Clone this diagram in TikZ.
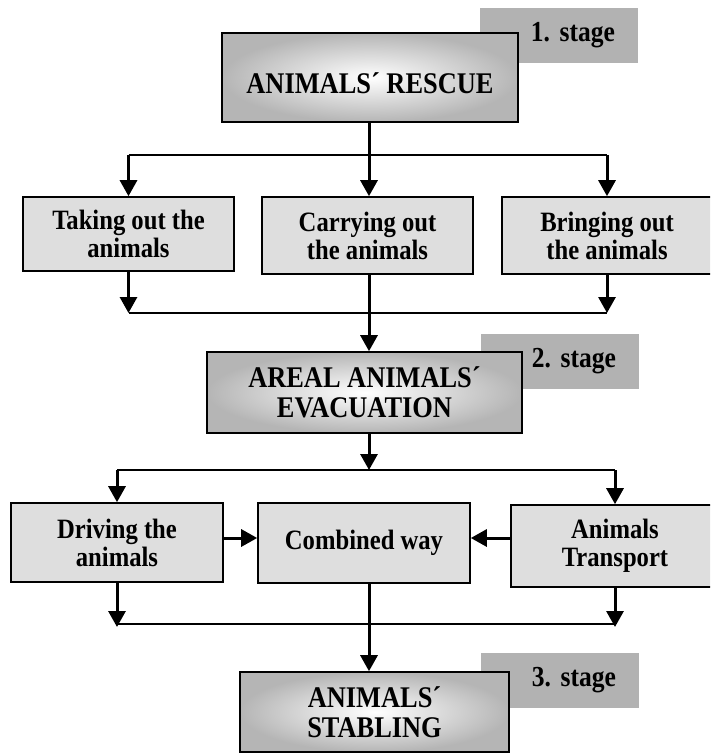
\documentclass[tikz,border=0pt]{standalone}
\usepackage{fontspec}
\setmainfont[FakeStretch=0.88]{Liberation Serif}
\usetikzlibrary{arrows.meta}
\definecolor{tagfill}{gray}{0.70}
\definecolor{stepfill}{gray}{0.87}
\definecolor{stageedge}{gray}{0.71}
\tikzset{
  stagebox/.style={draw=black, line width=1.6pt, inner color=white, outer color=stageedge, align=center, font=\fontsize{30}{30}\selectfont\bfseries},
  tagbox/.style={fill=tagfill, minimum height=55pt, text width=112pt, inner xsep=23pt, align=right, font=\fontsize{29}{30}\selectfont\bfseries},
  stepbox/.style={draw=black, line width=1.6pt, fill=stepfill, align=center, font=\fontsize{28}{28}\selectfont\bfseries},
  flow/.style={line width=3pt, -{Triangle[length=16pt,width=17pt]}},
  bus/.style={line width=1.3pt}
}
\begin{document}
\frenchspacing
\begin{tikzpicture}[x=1pt,y=-1pt]
    \clip (0,0) rectangle (710,754);
    \node[tagbox] (tag1) at (559,35.5) {1. stage};
    \node[tagbox] (tag2) at (560,361) {2. stage};
    \node[tagbox] (tag3) at (560,680.5) {3. stage};
    \node[stagebox, minimum width=296pt, minimum height=89pt, text height=32pt, text depth=0pt] (rescue) at (370,77.5) {ANIMALS´ RESCUE};
    \node[stepbox, minimum width=211pt, minimum height=74pt] (take) at (128.5,234) {Taking out the\\animals};
    \node[stepbox, minimum width=211pt, minimum height=77pt] (carry) at (367.5,235.5) {Carrying out\\the animals};
    \node[stepbox, minimum width=210pt, minimum height=77pt] (bring) at (607,235.5) {Bringing out\\the animals};
    \node[stagebox, minimum width=315pt, minimum height=81pt] (evac) at (364.5,392.5) {AREAL ANIMALS´\\EVACUATION};
    \node[stepbox, minimum width=212pt, minimum height=79pt] (drive) at (117,542.5) {Driving the\\animals};
    \node[stepbox, minimum width=212pt, minimum height=80pt] (combined) at (364,543) {Combined way};
    \node[stepbox, minimum width=208pt, minimum height=82pt] (transport) at (615,546) {Animals\\Transport};
    \node[stagebox, minimum width=269pt, minimum height=80pt] (stabling) at (374.5,712) {ANIMALS´\\STABLING};
    \coordinate (spine) at (369,0);
    \coordinate (split1) at (369,155);
    \coordinate (merge1) at (369,313);
    \coordinate (split2) at (369,470);
    \coordinate (merge2) at (369,624);
    \coordinate (side) at (369,538);
    \draw[flow] (spine |- rescue.south) -- (spine |- carry.north);
    \draw[bus] (take.north |- split1) -- (bring.north |- split1);
    \draw[flow] (take.north |- split1) -- (take.north);
    \draw[flow] (bring.north |- split1) -- (bring.north);
    \draw[flow] (take.south) -- (take.south |- merge1);
    \draw[flow] (bring.south) -- (bring.south |- merge1);
    \draw[bus] (take.south |- merge1) -- (bring.south |- merge1);
    \draw[flow] (spine |- carry.south) -- (spine |- evac.north);
    \draw[flow] (spine |- evac.south) -- (split2);
    \draw[bus] (drive.north |- split2) -- (transport.north |- split2);
    \draw[flow] (drive.north |- split2) -- (drive.north);
    \draw[flow] (transport.north |- split2) -- (transport.north);
    \draw[flow] (drive.east |- side) -- (combined.west |- side);
    \draw[flow] (transport.west |- side) -- (combined.east |- side);
    \draw[flow] (drive.south) -- ([yshift=-3pt]drive.south |- merge2);
    \draw[flow] (transport.south) -- ([yshift=-3pt]transport.south |- merge2);
    \draw[bus] (drive.south |- merge2) -- (transport.south |- merge2);
    \draw[flow] (spine |- combined.south) -- (spine |- stabling.north);
\end{tikzpicture}
\end{document}
